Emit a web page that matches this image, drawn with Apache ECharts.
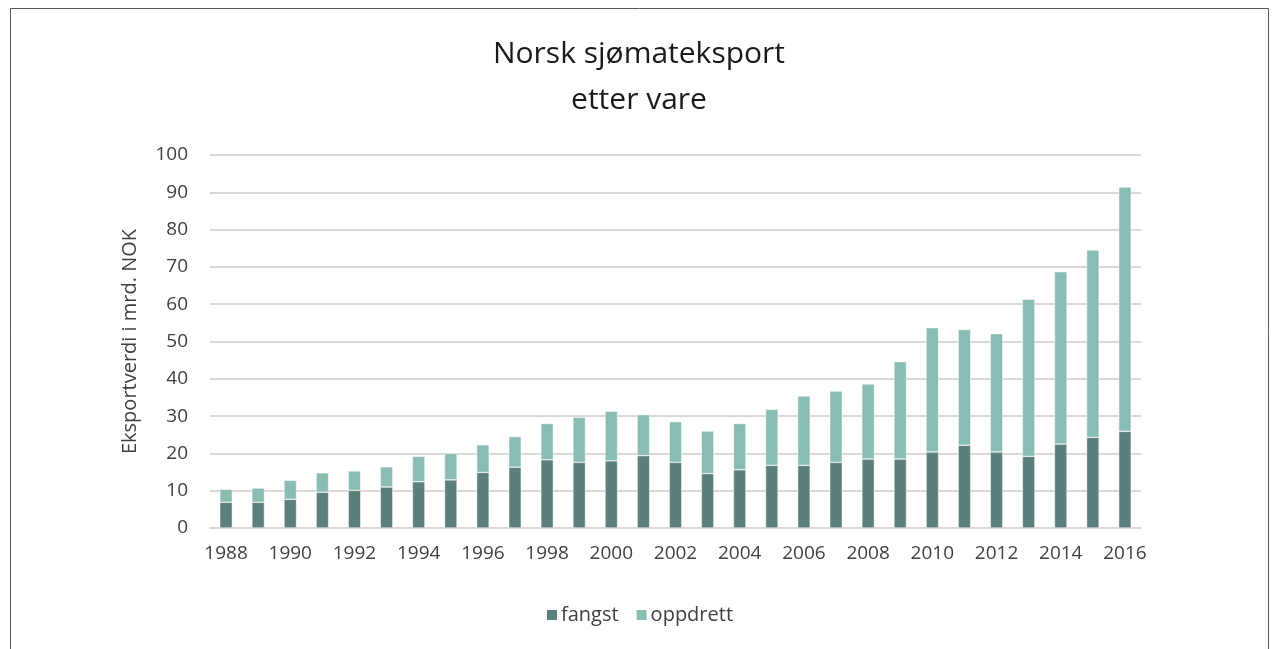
<!DOCTYPE html>
<html>
<head>
<meta charset="utf-8">
<script src="https://cdn.jsdelivr.net/npm/echarts@6/dist/echarts.min.js"></script>
<style>
  html, body { margin: 0; padding: 0; background: #fff; }
  #main { width: 1278px; height: 649px; }
</style>
</head>
<body>
<div id="main"></div>
<script>
// data (mrd. NOK)
const years = ['1988', '1989', '1990', '1991', '1992', '1993', '1994', '1995', '1996', '1997',
  '1998', '1999', '2000', '2001', '2002', '2003', '2004', '2005', '2006', '2007',
  '2008', '2009', '2010', '2011', '2012', '2013', '2014', '2015', '2016']
const fangst = [6.9, 6.9, 7.7, 9.6, 10.1, 11.0, 12.4, 12.9, 14.9, 16.3,
  18.3, 17.6, 18.0, 19.4, 17.6, 14.6, 15.6, 16.8, 16.8, 17.6,
  18.5, 18.5, 20.4, 22.2, 20.4, 19.2, 22.5, 24.3, 25.9]
const oppdrett = [3.5, 3.8, 5.1, 5.2, 5.2, 5.4, 6.8, 7.1, 7.4, 8.2,
  9.7, 12.1, 13.3, 11.0, 10.9, 11.4, 12.4, 15.0, 18.6, 19.1,
  20.1, 26.1, 33.3, 31.0, 31.7, 42.1, 46.2, 50.2, 65.5]

const font = 'Open Sans'
const textColor = '#404040'

const chart = echarts.init(document.getElementById('main'))
chart.setOption({
  animation: false,
  title: {
    text: 'Norsk sjømateksport\netter vare',
    left: 'center',
    top: 26,
    textStyle: {
      fontFamily: font,
      fontSize: 30,
      fontWeight: 'normal',
      color: '#1a1a1a',
      lineHeight: 46
    }
  },
  legend: {
    bottom: 19,
    left: 'center',
    itemWidth: 12,
    itemHeight: 12,
    itemGap: 16,
    icon: 'rect',
    textStyle: { fontFamily: font, fontSize: 20, color: textColor, padding: [0, 0, 0, -2] }
  },
  grid: { left: 210, right: 137, top: 155, bottom: 121 },
  graphic: [{
    type: 'rect',
    shape: { x: 10.5, y: 8.5, width: 1258, height: 660 },
    style: { fill: 'none', stroke: '#595959', lineWidth: 1 },
    silent: true
  }],
  xAxis: {
    type: 'category',
    data: years,
    axisTick: { show: false },
    axisLine: { lineStyle: { color: '#d9d9d9', width: 2 } },
    axisLabel: {
      interval: 1,
      margin: 16,
      fontFamily: font,
      fontSize: 19,
      color: textColor
    }
  },
  yAxis: {
    type: 'value',
    min: 0,
    max: 100,
    interval: 10,
    name: 'Eksportverdi i mrd. NOK',
    nameLocation: 'middle',
    nameGap: 70,
    nameTextStyle: { fontFamily: font, fontSize: 20, color: textColor },
    axisLabel: { margin: 22, fontFamily: font, fontSize: 19, color: textColor },
    splitLine: { lineStyle: { color: '#d9d9d9', width: 2 } }
  },
  series: [
    {
      name: 'fangst',
      type: 'bar',
      stack: 'total',
      data: fangst,
      barWidth: '39%',
      itemStyle: { color: '#5b7f7a', borderColor: '#fff', borderWidth: 0.5 }
    },
    {
      name: 'oppdrett',
      type: 'bar',
      stack: 'total',
      data: oppdrett,
      barWidth: '39%',
      itemStyle: { color: '#89bcb2', borderColor: '#fff', borderWidth: 0.5 }
    }
  ]
})
</script>
</body>
</html>
